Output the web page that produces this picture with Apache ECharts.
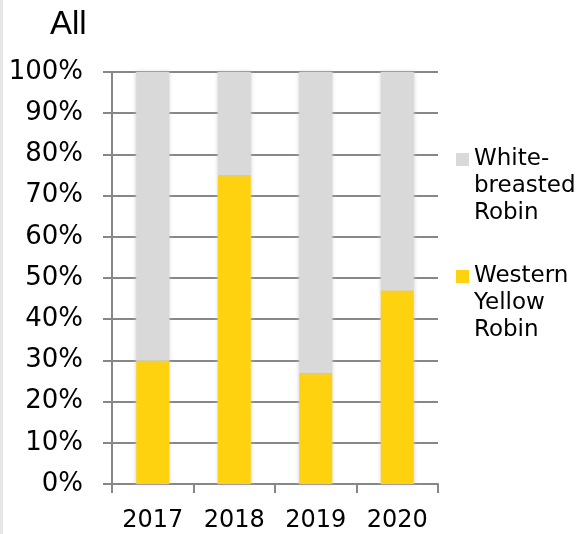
<!DOCTYPE html>
<html>
<head>
<meta charset="utf-8">
<script src="https://cdn.jsdelivr.net/npm/echarts@6/dist/echarts.min.js"></script>
<style>
  html, body { margin: 0; padding: 0; background: #fff; }
  #chart { width: 583px; height: 534px; }
</style>
</head>
<body>
<div id="chart"></div>
<script>
// Share of each robin species per year (percent of all records)
const years = ['2017', '2018', '2019', '2020'];
const westernYellow = [30, 75, 27, 47];
const whiteBreasted = [70, 25, 73, 53];
const seriesNames = ['Western Yellow Robin', 'White-breasted Robin'];
const legendLabels = {
  'White-breasted Robin': 'White-\nbreasted\nRobin',
  'Western Yellow Robin': 'Western\nYellow\nRobin'
};
const yMax = 100;
const yStep = 10;

const axisGray = '#878787';
const bodyFont = 'DejaVu Sans';

// Legend swatch sits beside the first line of a three-line label:
// a 13px square near the top of a tall, otherwise empty icon box.
const LINE_H = 27;
const SWATCH = 13;
const iconBoxH = LINE_H * 3;
const swatchTop = (LINE_H - SWATCH) / 2;
const swatchIcon = 'path://M0,0L0.01,0L0.01,0.01Z' +
  'M0,' + swatchTop + 'h' + SWATCH + 'v' + SWATCH + 'h-' + SWATCH + 'Z' +
  'M0,' + iconBoxH + 'L0.01,' + iconBoxH + 'L0.01,' + (iconBoxH - 0.01) + 'Z';

const legendBase = {
  orient: 'vertical',
  left: 456,
  padding: 0,
  itemWidth: SWATCH,
  itemHeight: iconBoxH,
  icon: swatchIcon,
  symbolKeepAspect: false,
  formatter: n => legendLabels[n],
  textStyle: { fontFamily: bodyFont, fontSize: 23, lineHeight: LINE_H, color: '#000' }
};

const barShadow = {
  shadowBlur: 4,
  shadowColor: 'rgba(200,200,200,0.9)'
};

const chart = echarts.init(document.getElementById('chart'), null, { renderer: 'canvas' });
chart.setOption({
  animation: false,
  backgroundColor: '#fff',
  title: {
    text: 'All',
    left: 50,
    top: 8,
    padding: 0,
    textStyle: { fontFamily: 'Liberation Sans', fontSize: 33, fontWeight: 'normal', color: '#000' }
  },
  graphic: [
    { type: 'rect', left: 0, top: 0, shape: { width: 3, height: 534 }, style: { fill: '#e6e6e6' } }
  ],
  legend: [
    Object.assign({ data: [seriesNames[1]], top: 146 }, legendBase),
    Object.assign({ data: [seriesNames[0]], top: 263 }, legendBase)
  ],
  grid: { left: 112, right: 145, top: 72, bottom: 50, containLabel: false },
  xAxis: {
    type: 'category',
    data: years,
    boundaryGap: true,
    axisLine: { show: true, lineStyle: { color: axisGray, width: 2 } },
    axisTick: { show: true, length: 9, alignWithLabel: false, lineStyle: { color: axisGray, width: 2 } },
    axisLabel: { fontFamily: bodyFont, fontSize: 24, color: '#000', margin: 25 }
  },
  yAxis: {
    type: 'value',
    min: 0, max: yMax, interval: yStep,
    axisLine: { show: true, lineStyle: { color: axisGray, width: 2 } },
    axisTick: { show: true, length: 9, lineStyle: { color: axisGray, width: 2 } },
    splitLine: { show: true, lineStyle: { color: axisGray, width: 2 } },
    axisLabel: { fontFamily: bodyFont, fontSize: 26, color: '#000', margin: 29, formatter: '{value}%' }
  },
  series: [
    {
      name: seriesNames[0],
      type: 'bar',
      stack: 'share',
      barWidth: 33,
      data: westernYellow,
      itemStyle: Object.assign({ color: '#ffd20f' }, barShadow)
    },
    {
      name: seriesNames[1],
      type: 'bar',
      stack: 'share',
      barWidth: 33,
      data: whiteBreasted,
      itemStyle: Object.assign({ color: '#d9d9d9' }, barShadow)
    }
  ]
});
</script>
</body>
</html>
